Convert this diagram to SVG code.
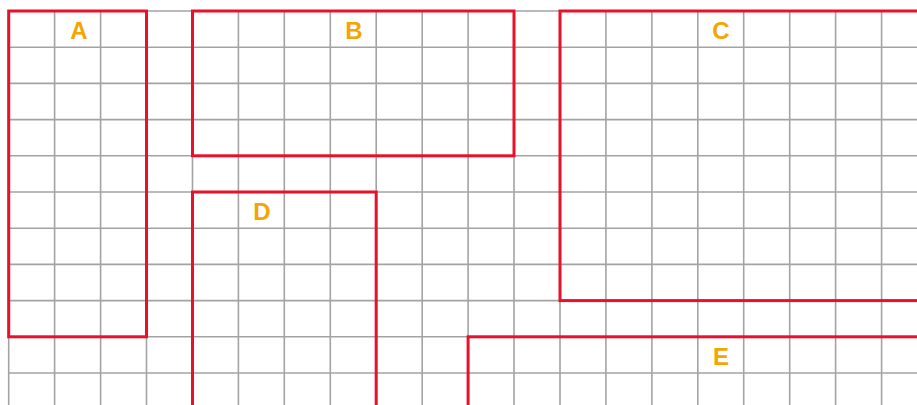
<svg xmlns="http://www.w3.org/2000/svg" width="917" height="405" viewBox="0 0 917 405">
<style>
.grid line{stroke:#a3a3a3;stroke-width:1.6}
.zone{fill:none;stroke:#e8102a;stroke-width:3}
.lbl{font-family:"Liberation Sans",Arial,sans-serif;font-weight:bold;font-size:24px;fill:#f5a500;text-anchor:middle}
</style>
<rect width="917" height="405" fill="#ffffff"/>
<g id="grid" class="grid">
<line x1="8.7" y1="11" x2="8.7" y2="405"/>
<line x1="54.6" y1="11" x2="54.6" y2="405"/>
<line x1="100.6" y1="11" x2="100.6" y2="405"/>
<line x1="146.5" y1="11" x2="146.5" y2="405"/>
<line x1="192.5" y1="11" x2="192.5" y2="405"/>
<line x1="238.4" y1="11" x2="238.4" y2="405"/>
<line x1="284.3" y1="11" x2="284.3" y2="405"/>
<line x1="330.3" y1="11" x2="330.3" y2="405"/>
<line x1="376.2" y1="11" x2="376.2" y2="405"/>
<line x1="422.2" y1="11" x2="422.2" y2="405"/>
<line x1="468.1" y1="11" x2="468.1" y2="405"/>
<line x1="514.0" y1="11" x2="514.0" y2="405"/>
<line x1="560.0" y1="11" x2="560.0" y2="405"/>
<line x1="605.9" y1="11" x2="605.9" y2="405"/>
<line x1="651.9" y1="11" x2="651.9" y2="405"/>
<line x1="697.8" y1="11" x2="697.8" y2="405"/>
<line x1="743.7" y1="11" x2="743.7" y2="405"/>
<line x1="789.7" y1="11" x2="789.7" y2="405"/>
<line x1="835.6" y1="11" x2="835.6" y2="405"/>
<line x1="881.6" y1="11" x2="881.6" y2="405"/>
<line x1="8.7" y1="11" x2="917" y2="11"/>
<line x1="8.7" y1="47.2" x2="917" y2="47.2"/>
<line x1="8.7" y1="83.4" x2="917" y2="83.4"/>
<line x1="8.7" y1="119.6" x2="917" y2="119.6"/>
<line x1="8.7" y1="155.8" x2="917" y2="155.8"/>
<line x1="8.7" y1="192" x2="917" y2="192"/>
<line x1="8.7" y1="228.2" x2="917" y2="228.2"/>
<line x1="8.7" y1="264.4" x2="917" y2="264.4"/>
<line x1="8.7" y1="300.6" x2="917" y2="300.6"/>
<line x1="8.7" y1="336.8" x2="917" y2="336.8"/>
<line x1="8.7" y1="373" x2="917" y2="373"/>
</g>
<g id="connectors"></g>
<g id="A"><rect class="zone" x="8.7" y="11" width="137.8" height="325.8"/><text class="lbl" x="79" y="39">A</text></g>
<g id="B"><rect class="zone" x="192.5" y="11" width="321.5" height="144.8"/><text class="lbl" x="354" y="39">B</text></g>
<g id="C"><rect class="zone" x="560" y="11" width="380" height="289.6"/><text class="lbl" x="721" y="39">C</text></g>
<g id="D"><rect class="zone" x="192.5" y="192" width="183.7" height="240"/><text class="lbl" x="262" y="220">D</text></g>
<g id="E"><rect class="zone" x="468.1" y="336.8" width="480" height="100"/><text class="lbl" x="721" y="365">E</text></g>
</svg>
